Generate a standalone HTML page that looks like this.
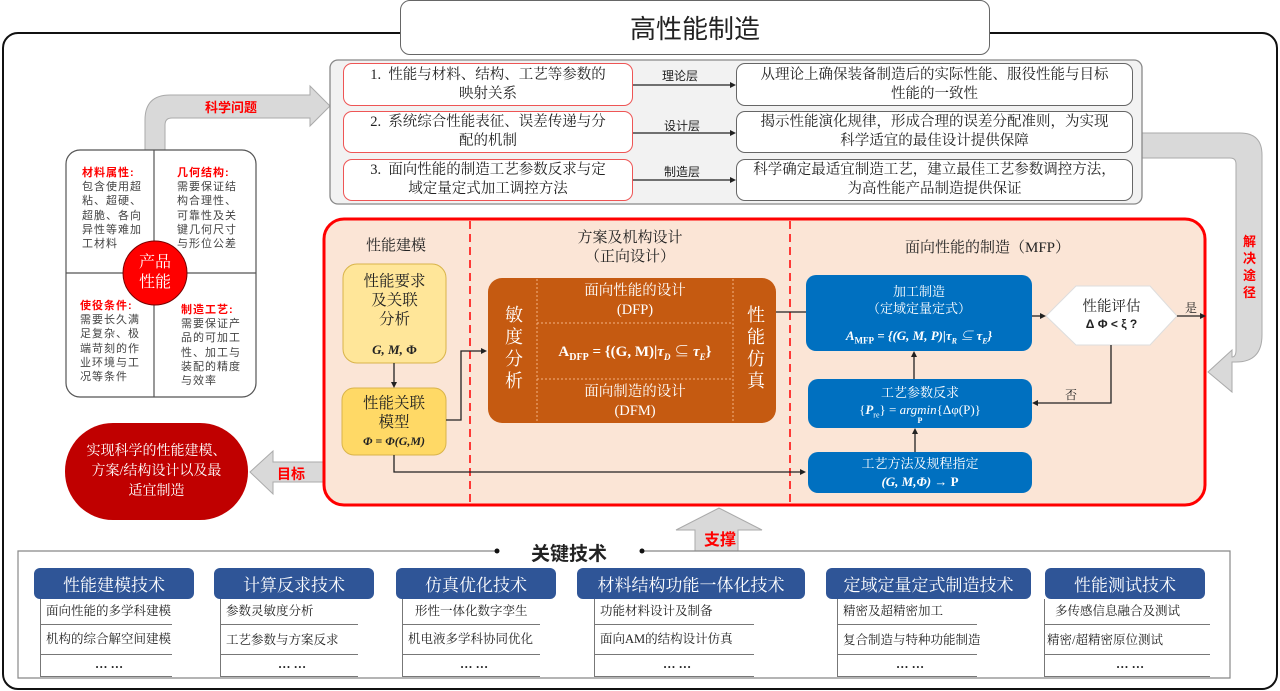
<!DOCTYPE html>
<html><head><meta charset="utf-8">
<style>
*{margin:0;padding:0;box-sizing:border-box}
body{width:1280px;height:691px;position:relative;background:#fff;overflow:hidden;font-family:"Liberation Serif","Noto Serif CJK SC","Noto Sans CJK SC",serif;color:#222}
.a{position:absolute}
.c{display:flex;align-items:center;justify-content:center;text-align:center}
.s{font-family:"Liberation Sans","Noto Sans CJK SC",sans-serif}
.lb{border:1.3px solid #ee5555;border-radius:9px;background:#fff;font-size:14.5px;line-height:19px}
.rb{border:1.3px solid #666;border-radius:9px;background:#fff;font-size:14.5px;line-height:19px}
.blue{background:#0070c0;border-radius:10px;color:#fff}
.th{background:#2f5597;color:#fff;border-radius:6px;font-size:17px;height:31px;top:568px}
.it{font-size:12.5px;border-bottom:1.3px solid #777;height:26px;line-height:24px;padding-left:5px;white-space:nowrap}
.col{border-left:1.3px solid #777}
.q{font-size:11px;line-height:14.2px;letter-spacing:1px;color:#444;width:62px}
</style></head><body>
<div class="a" style="left:2px;top:32px;width:1276px;height:658px;border:2px solid #111;border-radius:16px"></div>
<div class="a c" style="left:400px;top:0;width:590px;height:55px;border:1.3px solid #666;border-radius:10px;background:#fff;font-size:26px;font-family:'Noto Sans CJK SC',sans-serif">高性能制造</div>

<svg class="a" style="left:0;top:0" width="1280" height="691">
 <path d="M145 152 V120 Q145 95 170 95 H310 V86 L330 106 L310 126 V118 H172 Q165 118 165 125 V152 Z" fill="#d9d9d9" stroke="#aaa" stroke-width="1"/>
 <path d="M1142 133 H1240 Q1262 133 1262 155 V335 Q1262 362 1236 362 H1232 V392 L1208 372 L1232 350 V357 Q1236 357 1236 350 V164 Q1236 158 1230 158 H1142 Z" fill="#d9d9d9" stroke="#aaa" stroke-width="1"/>
 <path d="M323 462 H273 V451 L250 472 L273 494 V482 H323 Z" fill="#d9d9d9" stroke="#aaa" stroke-width="1"/>
 <path d="M695 551 V530 H676 L719 508 L762 530 H738 V551 Z" fill="#d9d9d9" stroke="#aaa" stroke-width="1"/>
 <rect x="330" y="60" width="812" height="144" rx="8" fill="#f2f2f2" stroke="#888" stroke-width="1.3"/>
 <g stroke="#222" stroke-width="1.3">
  <line x1="633" y1="85" x2="732" y2="85"/><line x1="633" y1="133" x2="732" y2="133"/><line x1="633" y1="180" x2="732" y2="180"/>
 </g>
 <g fill="#222"><path d="M736 85 l-6 -3 v6z"/><path d="M736 133 l-6 -3 v6z"/><path d="M736 180 l-6 -3 v6z"/></g>
 <rect x="66" y="150" width="190" height="247" rx="14" fill="#fff" stroke="#555" stroke-width="1.2"/>
 <line x1="154" y1="150" x2="154" y2="397" stroke="#555" stroke-width="1.2"/>
 <line x1="66" y1="273" x2="256" y2="273" stroke="#555" stroke-width="1.2"/>
 <circle cx="155" cy="273" r="32" fill="#ff0000" stroke="#700" stroke-width="1"/>
 <rect x="65" y="423" width="183" height="97" rx="48" fill="#c00000"/>
 <rect x="324" y="219" width="881" height="286" rx="20" fill="#fbe5d6" stroke="#ff0000" stroke-width="3"/>
 <line x1="470" y1="221" x2="470" y2="503" stroke="#ff0000" stroke-width="1.5" stroke-dasharray="8,5"/>
 <line x1="790" y1="221" x2="790" y2="503" stroke="#ff0000" stroke-width="1.5" stroke-dasharray="8,5"/>
 <rect x="343" y="264" width="103" height="99" rx="14" fill="#ffe699" stroke="#d9b44a" stroke-width="1"/>
 <rect x="342" y="388" width="104" height="67" rx="12" fill="#ffd966" stroke="#d9b44a" stroke-width="1"/>
 <rect x="488" y="278" width="288" height="145" rx="14" fill="#c55a11"/>
 <g stroke="#f4b183" stroke-width="1" stroke-dasharray="2,2" fill="none">
  <line x1="537" y1="279" x2="537" y2="423"/><line x1="733" y1="279" x2="733" y2="423"/>
  <line x1="537" y1="323" x2="733" y2="323"/><line x1="537" y1="379" x2="733" y2="379"/>
 </g>
 <polygon points="1046,316 1076,286 1150,286 1177,316 1150,345 1076,345" fill="#fff" stroke="#ddd"/>
 <g stroke="#222" stroke-width="1.3" fill="none">
  <line x1="394" y1="363" x2="394" y2="384"/>
  <polyline points="446,420 461,420 461,351 482,351"/>
  <polyline points="394,455 394,472 802,472"/>
  <line x1="776" y1="312" x2="806" y2="312"/>
  <line x1="1032" y1="316" x2="1042" y2="316"/>
  <line x1="1177" y1="316" x2="1202" y2="316"/>
  <polyline points="1111,345 1111,403 1036,403"/>
  <line x1="914" y1="379" x2="914" y2="355"/>
  <line x1="915" y1="452" x2="915" y2="432"/>
 </g>
 <g fill="#222">
  <path d="M394 388 l-3 -6 h6z"/><path d="M487 351 l-6 -3 v6z"/><path d="M806 472 l-6 -3 v6z"/>
  <path d="M1046 316 l-6 -3 v6z"/><path d="M1206 316 l-6 -3 v6z"/><path d="M1032 403 l6 -3 v6z"/>
  <path d="M914 351 l-3 6 h6z"/><path d="M915 428 l-3 6 h6z"/>
 </g>
 <polyline points="497,551 18,551 18,678 1230,678 1230,551 642,551" fill="none" stroke="#888" stroke-width="1.2"/>
 <circle cx="497" cy="551" r="2.5" fill="#111"/><circle cx="642" cy="551" r="2.5" fill="#111"/>
</svg>

<div class="a s" style="left:205px;top:97px;font-size:13px;color:#ff0000;font-weight:bold">科学问题</div>
<div class="a s" style="left:1243px;top:233px;width:14px;font-size:13px;line-height:17px;color:#ff0000;font-weight:bold">解决途径</div>
<div class="a s" style="left:277px;top:464px;font-size:14px;color:#ff0000;font-weight:bold">目标</div>
<div class="a s" style="left:704px;top:526px;font-size:16px;color:#ff0000;font-weight:bold">支撑</div>

<div class="a c lb" style="left:343px;top:63px;width:290px;height:43px"><div>1.&nbsp; 性能与材料、结构、工艺等参数的<br>映射关系</div></div>
<div class="a c lb" style="left:343px;top:111px;width:290px;height:42px"><div>2.&nbsp; 系统综合性能表征、误差传递与分<br>配的机制</div></div>
<div class="a c lb" style="left:343px;top:159px;width:290px;height:42px"><div>3.&nbsp; 面向性能的制造工艺参数反求与定<br>域定量定式加工调控方法</div></div>
<div class="a s" style="left:662px;top:67px;font-size:12px">理论层</div>
<div class="a s" style="left:664px;top:117px;font-size:12px">设计层</div>
<div class="a s" style="left:664px;top:163px;font-size:12px">制造层</div>
<div class="a c rb" style="left:736px;top:63px;width:397px;height:43px"><div>从理论上确保装备制造后的实际性能、服役性能与目标<br>性能的一致性</div></div>
<div class="a c rb" style="left:736px;top:111px;width:397px;height:42px"><div>揭示性能演化规律，形成合理的误差分配准则，为实现<br>科学适宜的最佳设计提供保障</div></div>
<div class="a c rb" style="left:736px;top:159px;width:397px;height:42px"><div>科学确定最适宜制造工艺，建立最佳工艺参数调控方法，<br>为高性能产品制造提供保证</div></div>

<div class="a s q" style="left:82px;top:166px"><b style="color:#ff0000">材料属性:</b><br>包含使用超粘、超硬、超脆、各向异性等难加工材料</div>
<div class="a s q" style="left:177px;top:166px"><b style="color:#ff0000">几何结构:</b><br>需要保证结构合理性、可靠性及关键几何尺寸与形位公差</div>
<div class="a s q" style="left:80px;top:299px"><b style="color:#ff0000">使役条件:</b><br>需要长久满足复杂、极端苛刻的作业环境与工况等条件</div>
<div class="a s q" style="left:181px;top:303px"><b style="color:#ff0000">制造工艺:</b><br>需要保证产品的可加工性、加工与装配的精度与效率</div>
<div class="a c" style="left:123px;top:252px;width:64px;height:42px;color:#fff;font-size:16px;line-height:20px"><div>产品<br>性能</div></div>
<div class="a c" style="left:65px;top:430px;width:183px;height:84px;color:#fff;font-size:14px;line-height:20px;white-space:nowrap"><div>实现科学的性能建模、<br>方案/结构设计以及最<br>适宜制造</div></div>

<div class="a" style="left:366px;top:234px;font-size:15px">性能建模</div>
<div class="a c" style="left:540px;top:229px;width:180px;font-size:15px;line-height:19px"><div>方案及机构设计<br>（正向设计）</div></div>
<div class="a" style="left:905px;top:236px;font-size:15px">面向性能的制造（MFP）</div>

<div class="a c" style="left:343px;top:268px;width:103px;height:64px;font-size:15.5px;line-height:19px"><div>性能要求<br>及关联<br>分析</div></div>
<div class="a" style="left:343px;top:342px;width:103px;text-align:center;font-size:13px;font-weight:bold;font-style:italic">G, M, <span style="font-style:normal">Φ</span></div>
<div class="a c" style="left:342px;top:393px;width:104px;height:40px;font-size:15.5px;line-height:19px"><div>性能关联<br>模型</div></div>
<div class="a" style="left:342px;top:434px;width:104px;text-align:center;font-size:12px;font-weight:bold;font-style:italic">Φ = Φ(G,M)</div>

<div class="a c" style="left:494px;top:288px;width:40px;height:120px;color:#fff;font-size:18px;line-height:22px"><div>敏<br>度<br>分<br>析</div></div>
<div class="a c" style="left:736px;top:288px;width:40px;height:120px;color:#fff;font-size:18px;line-height:22px"><div>性<br>能<br>仿<br>真</div></div>
<div class="a c" style="left:537px;top:280px;width:196px;height:42px;color:#fff;font-size:14.5px;line-height:19px"><div>面向性能的设计<br>(DFP)</div></div>
<div class="a" style="left:537px;top:340px;width:196px;text-align:center;color:#fff;font-size:15px;font-weight:bold;white-space:nowrap">A<sub style="font-size:10px">DFP</sub> = {(G, M)|<i>τ<sub style="font-size:9px">D</sub></i> ⊆ <i>τ<sub style="font-size:9px">E</sub></i>}</div>
<div class="a c" style="left:537px;top:381px;width:196px;height:42px;color:#fff;font-size:14.5px;line-height:19px"><div>面向制造的设计<br>(DFM)</div></div>

<div class="a blue" style="left:806px;top:275px;width:226px;height:76px"></div>
<div class="a" style="left:806px;top:283px;width:226px;text-align:center;color:#fff;font-size:13px;line-height:17px">加工制造<br>（定域定量定式）</div>
<div class="a" style="left:806px;top:325px;width:226px;text-align:center;color:#fff;font-size:13px;font-weight:bold;font-style:italic;white-space:nowrap">A<sub style="font-size:9px;font-style:normal">MFP</sub> = {(G, M, P)|τ<sub style="font-size:8px">R</sub> ⊆ τ<sub style="font-size:8px">E</sub>}</div>
<div class="a blue" style="left:808px;top:379px;width:224px;height:49px"></div>
<div class="a" style="left:808px;top:384px;width:224px;text-align:center;color:#fff;font-size:13px;line-height:17px;white-space:nowrap">工艺参数反求<br>{<b><i>P</i></b><sub style="font-size:8px">re</sub>} = <i>argmin</i>{Δφ(P)}</div>
<div class="a" style="left:808px;top:416px;width:224px;text-align:center;color:#fff;font-size:8px;font-weight:bold">P</div>
<div class="a blue" style="left:808px;top:452px;width:224px;height:41px"></div>
<div class="a" style="left:808px;top:455px;width:224px;text-align:center;color:#fff;font-size:13px;line-height:18px;white-space:nowrap">工艺方法及规程指定<br><b><i>(G, M,Φ)</i> → P</b></div>

<div class="a" style="left:1046px;top:299px;width:131px;text-align:center;font-size:14.5px;line-height:17px">性能评估<br><b class="s" style="font-size:12px">Δ Φ &lt; ξ ?</b></div>
<div class="a" style="left:1185px;top:299px;font-size:12px">是</div>
<div class="a" style="left:1065px;top:386px;font-size:12px">否</div>

<div class="a s" style="left:527px;top:539px;font-size:19px;font-weight:bold;background:#fff;padding:0 4px">关键技术</div>

<div class="a c th" style="left:34px;width:160px">性能建模技术</div>
<div class="a col" style="left:40px;top:599px;width:132px">
 <div class="it">面向性能的多学科建模</div><div class="it" style="height:30px;line-height:28px">机构的综合解空间建模</div><div class="it" style="text-align:center;font-weight:bold;height:22px;line-height:18px">… …</div></div>
<div class="a c th" style="left:214px;width:160px">计算反求技术</div>
<div class="a col" style="left:220px;top:599px;width:138px">
 <div class="it">参数灵敏度分析</div><div class="it" style="height:30px;line-height:30px">工艺参数与方案反求</div><div class="it" style="text-align:center;font-weight:bold;height:22px;line-height:18px">… …</div></div>
<div class="a c th" style="left:396px;width:160px">仿真优化技术</div>
<div class="a col" style="left:402px;top:599px;width:138px">
 <div class="it" style="padding-left:12px">形性一体化数字孪生</div><div class="it" style="height:30px;line-height:28px">机电液多学科协同优化</div><div class="it" style="text-align:center;font-weight:bold;height:22px;line-height:18px">… …</div></div>
<div class="a c th" style="left:577px;width:228px">材料结构功能一体化技术</div>
<div class="a col" style="left:594px;top:599px;width:160px">
 <div class="it">功能材料设计及制备</div><div class="it" style="height:30px;line-height:28px">面向AM的结构设计仿真</div><div class="it" style="text-align:center;font-weight:bold;height:22px;line-height:18px">… …</div></div>
<div class="a c th" style="left:826px;width:205px">定域定量定式制造技术</div>
<div class="a col" style="left:837px;top:599px;width:140px">
 <div class="it">精密及超精密加工</div><div class="it" style="height:30px;line-height:30px">复合制造与特种功能制造</div><div class="it" style="text-align:center;font-weight:bold;height:22px;line-height:18px">… …</div></div>
<div class="a c th" style="left:1045px;width:160px">性能测试技术</div>
<div class="a col" style="left:1044px;top:599px;width:166px">
 <div class="it" style="padding-left:10px">多传感信息融合及测试</div><div class="it" style="height:30px;line-height:30px;padding-left:2px">精密/超精密原位测试</div><div class="it" style="text-align:center;font-weight:bold;height:22px;line-height:18px">… …</div></div>
</body></html>
